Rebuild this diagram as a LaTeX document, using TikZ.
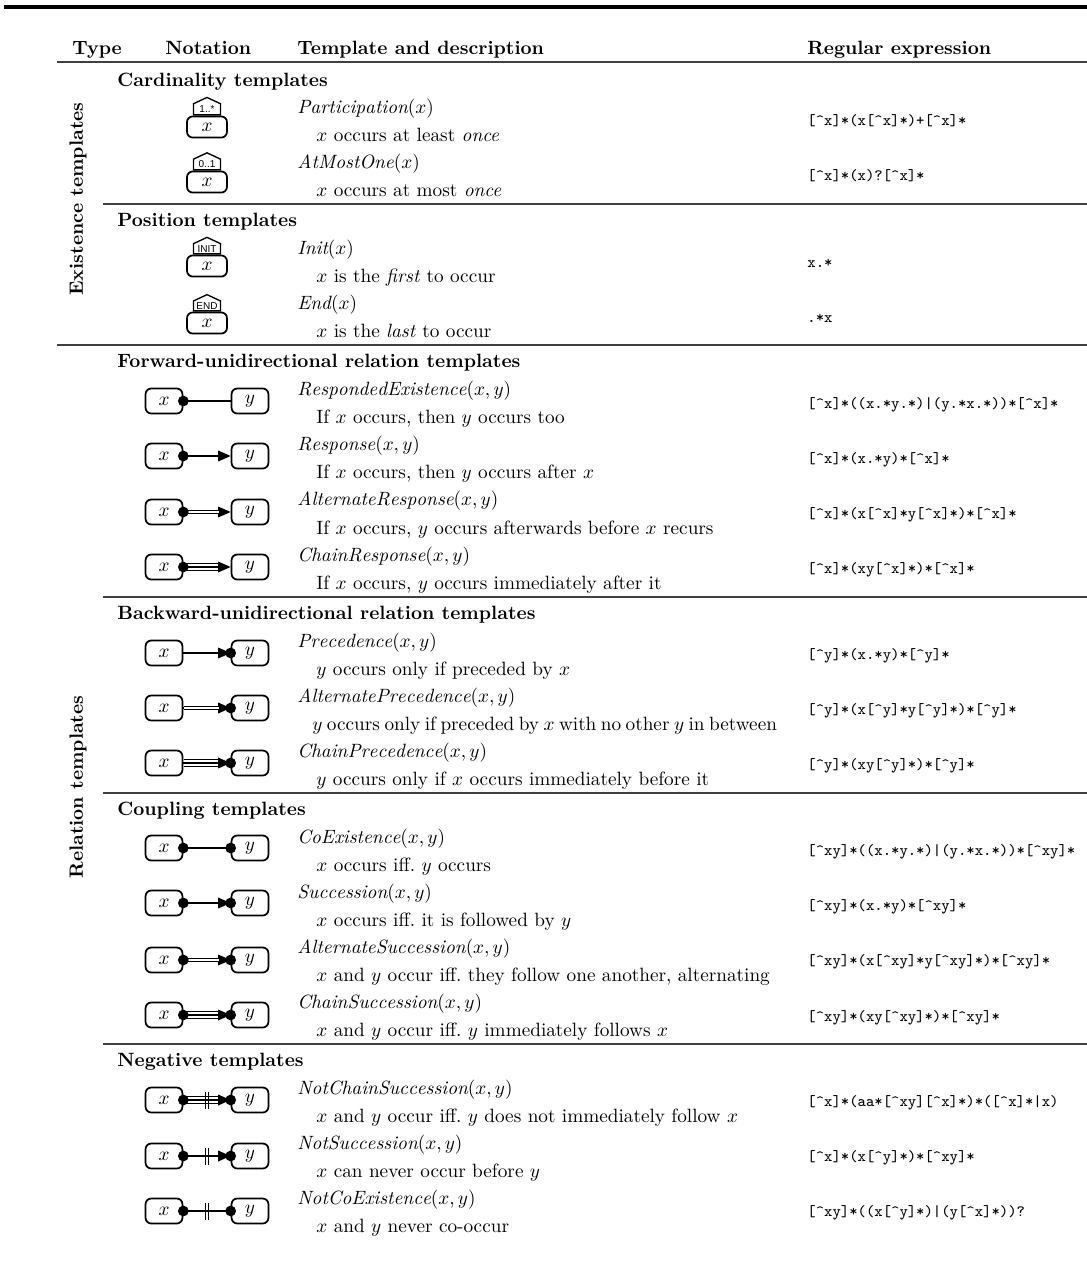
\documentclass[tikz,border=0pt]{standalone}
\usepackage{fontspec}
\usetikzlibrary{positioning,calc,arrows.meta,shapes.symbols}
\newfontfamily\tagfont{Liberation Sans}
\newcommand\regex[1]{{\ttfamily\fontsize{8.2}{9}\selectfont\detokenize{#1}}}

\tikzset{
  txt/.style={anchor=west,inner sep=0pt,text height=7pt,text depth=2pt,yshift=-1.5pt},
  rx/.style={txt,yshift=0.5pt},
  hdr/.style={txt,font=\bfseries},
  act/.style={draw,line width=0.9pt,rounded corners=3pt,minimum width=19.2pt,minimum height=13pt,inner sep=0pt},
  exact/.style={act,minimum width=20.8pt,minimum height=11pt},
  tag/.style={draw,line width=0.7pt,shape=signal,signal to=north,signal from=nowhere,signal pointer angle=130,
    minimum width=14pt,minimum height=8pt,inner sep=0.8pt,font=\tagfont\fontsize{5.2}{6}\selectfont},
  con/.style={line width=0.75pt},
  alt/.style={line width=0.55pt,double,double distance=1.3pt},
  chain/.style={line width=0.55pt,double,double distance=2.8pt},
  head/.style={-{Triangle[length=6.5pt,width=5.5pt]}},
  rule/.style={line width=0.8pt,draw=black!75}
}

\begin{document}
\begin{tikzpicture}[x=0.52pt,y=-0.52pt]
\useasboundingbox (0,0) rectangle (1087,1264);

\draw[line width=1.6pt] (4,7) -- (1087,7);
\node[hdr] at (72,47) {Type};
\node[hdr] at (165,47) {Notation};
\node[hdr] at (297,47) {Template and description};
\node[hdr] at (807,47) {Regular expression};
\draw[rule] (57,62) -- (1087,62);

\node[rotate=90,font=\bfseries] at (78,199) {Existence templates};
\node[rotate=90,font=\bfseries] at (78,787) {Relation templates};

% existence templates
\node[hdr] at (117,79) {Cardinality templates};
\node[exact] (c1) at (207,127) {$x$};
\node[tag,above=0pt of c1] (c1tag) {1..*};
\node[txt] at (297,106) {$\mathit{Participation}(x)$};
\node[txt] at (316,134) {$x$ occurs at least \emph{once}};
\node[rx] at (807,119) {\regex{[^x]*(x[^x]*)+[^x]*}};

\node[exact] (c2) at (207,182) {$x$};
\node[tag,above=0pt of c2] (c2tag) {0..1};
\node[txt] at (297,161) {$\mathit{AtMostOne}(x)$};
\node[txt] at (316,189) {$x$ occurs at most \emph{once}};
\node[rx] at (807,174) {\regex{[^x]*(x)?[^x]*}};
\draw[rule] (103,204) -- (1087,204);

\node[hdr] at (117,219) {Position templates};
\node[exact] (p1) at (207,266) {$x$};
\node[tag,above=0pt of p1] (p1tag) {INIT};
\node[txt] at (297,247) {$\mathit{Init}(x)$};
\node[txt] at (316,275) {$x$ is the \emph{first} to occur};
\node[rx] at (807,261) {\regex{x.*}};

\node[exact] (p2) at (207,323) {$x$};
\node[tag,above=0pt of p2] (p2tag) {END};
\node[txt] at (297,302) {$\mathit{End}(x)$};
\node[txt] at (316,330) {$x$ is the \emph{last} to occur};
\node[rx] at (807,316) {\regex{.*x}};
\draw[rule] (57,345) -- (1087,345);

% forward-unidirectional
\node[hdr] at (117,360) {Forward-unidirectional relation templates};
\node[act] (fx1) at (164,401) {$x$};
\node[act] (fy1) at (250,401) {$y$};
\draw[con] (fx1.east) -- (fy1.west);
\fill (fx1.east) circle (2.8pt);
\node[txt] at (297,388) {$\mathit{RespondedExistence}(x,y)$};
\node[txt] at (316,416) {If $x$ occurs, then $y$ occurs too};
\node[rx] at (807,402) {\regex{[^x]*((x.*y.*)|(y.*x.*))*[^x]*}};

\node[act] (fx2) at (164,456) {$x$};
\node[act] (fy2) at (250,456) {$y$};
\draw[con,head] (fx2.east) -- (fy2.west);
\fill (fx2.east) circle (2.8pt);
\node[txt] at (297,443) {$\mathit{Response}(x,y)$};
\node[txt] at (316,471) {If $x$ occurs, then $y$ occurs after $x$};
\node[rx] at (807,457) {\regex{[^x]*(x.*y)*[^x]*}};

\node[act] (fx3) at (164,512) {$x$};
\node[act] (fy3) at (250,512) {$y$};
\draw[con,head] (fx3.east) -- (fy3.west);
\draw[alt,shorten >=6pt] (fx3.east) -- (fy3.west);
\fill (fx3.east) circle (2.8pt);
\node[txt] at (297,498) {$\mathit{AlternateResponse}(x,y)$};
\node[txt] at (316,527) {If $x$ occurs, $y$ occurs afterwards before $x$ recurs};
\node[rx] at (807,512) {\regex{[^x]*(x[^x]*y[^x]*)*[^x]*}};

\node[act] (fx4) at (164,567) {$x$};
\node[act] (fy4) at (250,567) {$y$};
\draw[chain,shorten >=6pt] (fx4.east) -- (fy4.west);
\draw[con,head] (fx4.east) -- (fy4.west);
\fill (fx4.east) circle (2.8pt);
\node[txt] at (297,554) {$\mathit{ChainResponse}(x,y)$};
\node[txt] at (316,582) {If $x$ occurs, $y$ occurs immediately after it};
\node[rx] at (807,567) {\regex{[^x]*(xy[^x]*)*[^x]*}};
\draw[rule] (103,597) -- (1087,597);

% backward-unidirectional
\node[hdr] at (117,612) {Backward-unidirectional relation templates};
\node[act] (bx1) at (164,653) {$x$};
\node[act] (by1) at (250,653) {$y$};
\draw[con,head] (bx1.east) -- (by1.west);
\fill (by1.west) circle (2.8pt);
\node[txt] at (297,640) {$\mathit{Precedence}(x,y)$};
\node[txt] at (316,668) {$y$ occurs only if preceded by $x$};
\node[rx] at (807,653) {\regex{[^y]*(x.*y)*[^y]*}};

\node[act] (bx2) at (164,708) {$x$};
\node[act] (by2) at (250,708) {$y$};
\draw[con,head] (bx2.east) -- (by2.west);
\draw[alt,shorten <=0.5pt,shorten >=6pt] (bx2.east) -- (by2.west);
\fill (by2.west) circle (2.8pt);
\node[txt] at (297,695) {$\mathit{AlternatePrecedence}(x,y)$};
\node[txt] at (312,723) {\spaceskip=0.7\fontdimen2\font $y$ occurs only if preceded by $x$ with no other $y$ in between};
\node[rx] at (807,708) {\regex{[^y]*(x[^y]*y[^y]*)*[^y]*}};

\node[act] (bx3) at (164,763) {$x$};
\node[act] (by3) at (250,763) {$y$};
\draw[chain,shorten <=0.5pt,shorten >=6pt] (bx3.east) -- (by3.west);
\draw[con,head] (bx3.east) -- (by3.west);
\fill (by3.west) circle (2.8pt);
\node[txt] at (297,750) {$\mathit{ChainPrecedence}(x,y)$};
\node[txt] at (316,778) {$y$ occurs only if $x$ occurs immediately before it};
\node[rx] at (807,763) {\regex{[^y]*(xy[^y]*)*[^y]*}};
\draw[rule] (103,793) -- (1087,793);

% coupling
\node[hdr] at (117,808) {Coupling templates};
\node[act] (cx1) at (164,848) {$x$};
\node[act] (cy1) at (250,848) {$y$};
\draw[con] (cx1.east) -- (cy1.west);
\fill (cx1.east) circle (2.8pt) (cy1.west) circle (2.8pt);
\node[txt] at (297,836) {$\mathit{CoExistence}(x,y)$};
\node[txt] at (316,864) {$x$ occurs iff.\ $y$ occurs};
\node[rx] at (807,849) {\regex{[^xy]*((x.*y.*)|(y.*x.*))*[^xy]*}};

\node[act] (cx2) at (164,903) {$x$};
\node[act] (cy2) at (250,903) {$y$};
\draw[con,head] (cx2.east) -- (cy2.west);
\fill (cx2.east) circle (2.8pt) (cy2.west) circle (2.8pt);
\node[txt] at (297,891) {$\mathit{Succession}(x,y)$};
\node[txt] at (316,919) {$x$ occurs iff.\ it is followed by $y$};
\node[rx] at (807,904) {\regex{[^xy]*(x.*y)*[^xy]*}};

\node[act] (cx3) at (164,960) {$x$};
\node[act] (cy3) at (250,960) {$y$};
\draw[con,head] (cx3.east) -- (cy3.west);
\draw[alt,shorten >=6pt] (cx3.east) -- (cy3.west);
\fill (cx3.east) circle (2.8pt) (cy3.west) circle (2.8pt);
\node[txt] at (297,946) {$\mathit{AlternateSuccession}(x,y)$};
\node[txt] at (316,974) {$x$ and $y$ occur iff.\ they follow one another, alternating};
\node[rx] at (807,959) {\regex{[^xy]*(x[^xy]*y[^xy]*)*[^xy]*}};

\node[act] (cx4) at (164,1015) {$x$};
\node[act] (cy4) at (250,1015) {$y$};
\draw[chain,shorten >=6pt] (cx4.east) -- (cy4.west);
\draw[con,head] (cx4.east) -- (cy4.west);
\fill (cx4.east) circle (2.8pt) (cy4.west) circle (2.8pt);
\node[txt] at (297,1001) {$\mathit{ChainSuccession}(x,y)$};
\node[txt] at (316,1029) {$x$ and $y$ occur iff.\ $y$ immediately follows $x$};
\node[rx] at (807,1015) {\regex{[^xy]*(xy[^xy]*)*[^xy]*}};
\draw[rule] (103,1044) -- (1087,1044);

% negative
\node[hdr] at (117,1059) {Negative templates};
\node[act] (nx1) at (164,1100) {$x$};
\node[act] (ny1) at (250,1100) {$y$};
\draw[chain,shorten >=6pt] (nx1.east) -- (ny1.west);
\draw[con,head] (nx1.east) -- (ny1.west);
\draw[con] ($(nx1.east)!0.5!(ny1.west)$) ++(-1.5,-8.5) -- ++(0,17) ++(3,0) -- ++(0,-17);
\fill (nx1.east) circle (2.8pt) (ny1.west) circle (2.8pt);
\node[txt] at (297,1087) {$\mathit{NotChainSuccession}(x,y)$};
\node[txt] at (316,1115) {$x$ and $y$ occur iff.\ $y$ does not immediately follow $x$};
\node[rx] at (807,1100) {\regex{[^x]*(aa*[^xy][^x]*)*([^x]*|x)}};

\node[act] (nx2) at (164,1156) {$x$};
\node[act] (ny2) at (250,1156) {$y$};
\draw[con,head] (nx2.east) -- (ny2.west);
\draw[con] ($(nx2.east)!0.5!(ny2.west)$) ++(-1.5,-8.5) -- ++(0,17) ++(3,0) -- ++(0,-17);
\fill (nx2.east) circle (2.8pt) (ny2.west) circle (2.8pt);
\node[txt] at (297,1142) {$\mathit{NotSuccession}(x,y)$};
\node[txt] at (316,1170) {$x$ can never occur before $y$};
\node[rx] at (807,1155) {\regex{[^x]*(x[^y]*)*[^xy]*}};

\node[act] (nx3) at (164,1211) {$x$};
\node[act] (ny3) at (250,1211) {$y$};
\draw[con] (nx3.east) -- (ny3.west);
\draw[con] ($(nx3.east)!0.5!(ny3.west)$) ++(-1.5,-8.5) -- ++(0,17) ++(3,0) -- ++(0,-17);
\fill (nx3.east) circle (2.8pt) (ny3.west) circle (2.8pt);
\node[txt] at (297,1197) {$\mathit{NotCoExistence}(x,y)$};
\node[txt] at (316,1225) {$x$ and $y$ never co-occur};
\node[rx] at (807,1210) {\regex{[^xy]*((x[^y]*)|(y[^x]*))?}};
\end{tikzpicture}
\end{document}
